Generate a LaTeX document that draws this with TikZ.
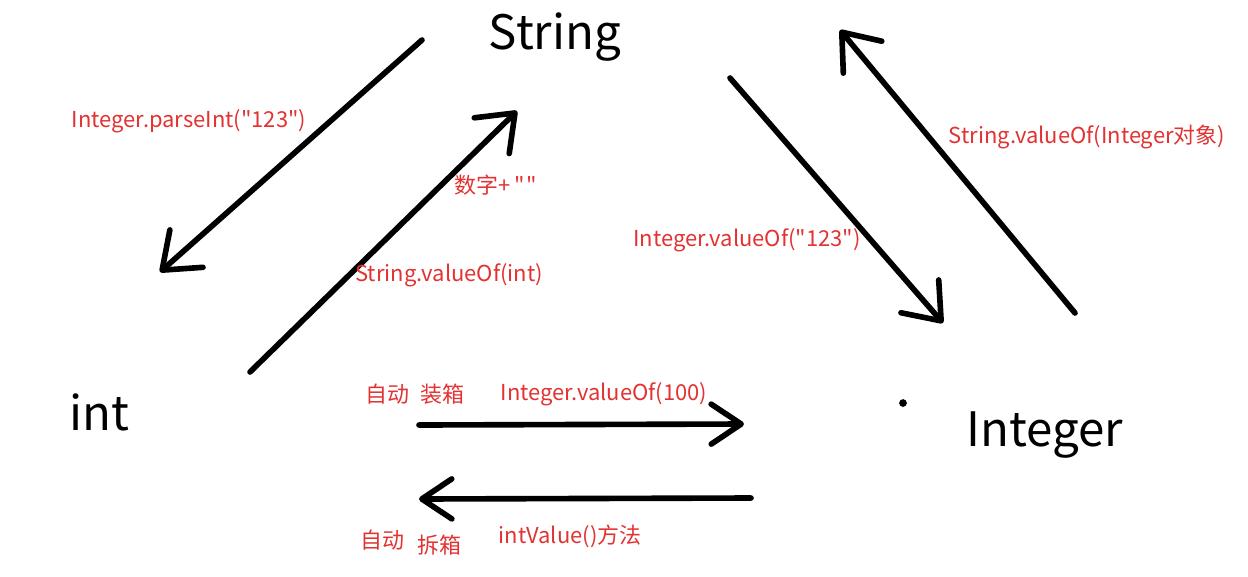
\documentclass[tikz,border=0pt]{standalone}
\usepackage{fontspec}
\setmainfont{Noto Sans CJK SC}[Ligatures=TeXOff]
\usepackage{xcolor}
\usetikzlibrary{arrows.meta}
\definecolor{notered}{RGB}{226,50,50}

\begin{document}
\begin{tikzpicture}[
        x=0.02cm, y=-0.02cm,
        % Node styles
        typename/.style={font=\fontsize{27}{32}\selectfont, text=black, inner sep=0pt},
        note/.style={font=\fontsize{12.5}{15}\selectfont, text=notered, inner sep=0pt},
        arrow/.style={line width=3.2pt, line cap=round, -{Straight Barb[length=0.65cm, width=1cm, round]}},
        flatarrow/.style={arrow, -{Straight Barb[length=0.6cm, width=0.8cm, round]}}
    ]
        \useasboundingbox (0,0) rectangle (1248,576);

        % Type names
        \node[typename] (str) at (555,37) {String};
        \node[typename] (int) at (99,412) {int};
        \node[typename] (integer) at (1045,435) {Integer};
        \fill (903,403) circle (2.2pt);

        % Arrow end points
        \coordinate (parsestart) at (422,40);
        \coordinate (parseend) at (160,272);
        \coordinate (tostrstart) at (250,372);
        \coordinate (tostrend) at (517,111);
        \coordinate (valueofstart) at (730,78);
        \coordinate (valueofend) at (943,323);
        \coordinate (objstrstart) at (1075,313);
        \coordinate (objstrend) at (840,30);
        \coordinate (boxstart) at (419,425);
        \coordinate (boxend) at (744,424);
        \coordinate (unboxstart) at (751,498);
        \coordinate (unboxend) at (419,499);

        % Arrows between String and int
        \draw[arrow] (parsestart) -- (parseend);
        \draw[arrow] (tostrstart) -- (tostrend);

        % Arrows between String and Integer
        \draw[arrow] (valueofstart) -- (valueofend);
        \draw[arrow] (objstrstart) -- (objstrend);

        % Boxing and unboxing
        \draw[flatarrow] (boxstart) -- (boxend);
        \draw[flatarrow] (unboxstart) -- (unboxend);

        % Labels
        \node[note] (parselabel) at (189,121) {Integer.parseInt("123")};
        \node[note] (pluslabel) at (496,185) {数字+\hspace{2pt}"\hspace{1pt}"};
        \node[note] (tostrlabel) at (449,275) {String.valueOf(int)};
        \node[note] (valueoflabel) at (747,240) {Integer.valueOf("123")};
        \node[note] (objstrlabel) at (1087,137) {String.valueOf(Integer对象)};
        \node[note] (boxlabel) at (415,394) {自动\hspace{6pt}装箱};
        \node[note] (boxmethod) at (604,394) {Integer.valueOf(100)};
        \node[note] (autolabel) at (382,540) {自动};
        \node[note] (unboxlabel) at (439,545) {拆箱};
        \node[note] (unboxmethod) at (570,536) {intValue()方法};
    \end{tikzpicture}
\end{document}
